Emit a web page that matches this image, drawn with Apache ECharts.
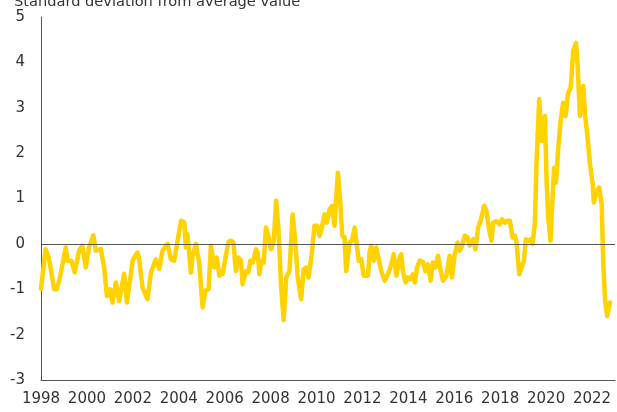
<!DOCTYPE html>
<html>
<head>
<meta charset="utf-8">
<script src="https://cdn.jsdelivr.net/npm/echarts@6/dist/echarts.min.js"></script>
<style>
  html, body { margin: 0; padding: 0; background: #fff; }
  #chart { width: 617px; height: 412px; }
</style>
</head>
<body>
<div id="chart"></div>
<script>
// decimal years and standardised values
const years = [
  1998.0, 1998.2, 1998.35, 1998.57, 1998.68, 1998.79, 1998.86, 1999.08, 1999.15, 1999.32,
  1999.47, 1999.66, 1999.8, 1999.95, 2000.09, 2000.28, 2000.39, 2000.6, 2000.75, 2000.87,
  2001.01, 2001.11, 2001.26, 2001.4, 2001.62, 2001.74, 2001.88, 2001.99, 2002.06, 2002.2,
  2002.28, 2002.42, 2002.64, 2002.79, 2003.0, 2003.15, 2003.29, 2003.51, 2003.66, 2003.8,
  2003.95, 2004.1, 2004.24, 2004.31, 2004.38, 2004.53, 2004.6, 2004.75, 2004.82, 2004.89,
  2005.04, 2005.16, 2005.3, 2005.4, 2005.55, 2005.65, 2005.77, 2005.91, 2006.06, 2006.17,
  2006.28, 2006.38, 2006.49, 2006.6, 2006.71, 2006.78, 2006.93, 2007.03, 2007.12, 2007.22,
  2007.37, 2007.44, 2007.51, 2007.61, 2007.7, 2007.8, 2007.9, 2008.02, 2008.14, 2008.24,
  2008.34, 2008.46, 2008.57, 2008.68, 2008.82, 2008.96, 2009.07, 2009.18, 2009.33, 2009.44,
  2009.55, 2009.65, 2009.79, 2009.91, 2010.03, 2010.13, 2010.2, 2010.35, 2010.45, 2010.57,
  2010.68, 2010.78, 2010.93, 2011.03, 2011.12, 2011.22, 2011.29, 2011.44, 2011.55, 2011.66,
  2011.76, 2011.84, 2011.95, 2012.05, 2012.24, 2012.31, 2012.38, 2012.49, 2012.6, 2012.72,
  2012.82, 2012.97, 2013.11, 2013.26, 2013.36, 2013.48, 2013.62, 2013.69, 2013.76, 2013.88,
  2013.98, 2014.09, 2014.2, 2014.28, 2014.38, 2014.49, 2014.64, 2014.74, 2014.85, 2014.97,
  2015.07, 2015.18, 2015.29, 2015.41, 2015.51, 2015.66, 2015.8, 2015.9, 2016.02, 2016.14,
  2016.24, 2016.34, 2016.46, 2016.57, 2016.67, 2016.82, 2016.92, 2017.04, 2017.15, 2017.3,
  2017.4, 2017.5, 2017.62, 2017.69, 2017.84, 2017.98, 2018.08, 2018.2, 2018.32, 2018.42,
  2018.54, 2018.64, 2018.71, 2018.83, 2018.93, 2019.03, 2019.12, 2019.22, 2019.32, 2019.41,
  2019.51, 2019.58, 2019.7, 2019.8, 2019.87, 2019.95, 2020.02, 2020.09, 2020.19, 2020.28,
  2020.35, 2020.43, 2020.53, 2020.63, 2020.74, 2020.85, 2020.96, 2021.07, 2021.18, 2021.3,
  2021.37, 2021.47, 2021.55, 2021.62, 2021.69, 2021.79, 2021.91, 2022.03, 2022.08, 2022.2,
  2022.31, 2022.42, 2022.49, 2022.57, 2022.66, 2022.78
]
const values = [
  -0.99, -0.12, -0.33, -1.0, -1.0, -0.82, -0.85, -0.08, -0.37, -0.37,
  -0.63, -0.15, -0.04, -0.52, -0.08, 0.19, -0.15, -0.11, -0.52, -1.15,
  -1.0, -1.29, -0.85, -1.26, -0.66, -1.29, -0.8, -0.37, -0.34, -0.19,
  -0.34, -0.96, -1.22, -0.63, -0.34, -0.55, -0.15, 0.0, -0.34, -0.37,
  0.07, 0.51, 0.47, -0.08, 0.21, -0.63, -0.26, 0.0, -0.23, -0.41,
  -1.4, -1.03, -1.0, -0.04, -0.52, -0.3, -0.7, -0.66, -0.23, 0.05,
  0.07, 0.03, -0.6, -0.3, -0.37, -0.89, -0.6, -0.63, -0.37, -0.41,
  -0.12, -0.2, -0.67, -0.37, -0.41, 0.36, 0.18, -0.12, 0.07, 0.95,
  0.36, -0.96, -1.68, -0.74, -0.6, 0.65, 0.07, -0.74, -1.22, -0.56,
  -0.52, -0.74, -0.23, 0.4, 0.4, 0.18, 0.29, 0.65, 0.47, 0.76,
  0.84, 0.4, 1.57, 0.95, 0.18, 0.15, -0.6, 0.03, 0.07, 0.36,
  -0.04, -0.37, -0.34, -0.7, -0.7, -0.19, -0.04, -0.37, -0.08, -0.37,
  -0.6, -0.81, -0.67, -0.45, -0.23, -0.7, -0.3, -0.23, -0.6, -0.85,
  -0.74, -0.78, -0.67, -0.85, -0.52, -0.37, -0.4, -0.6, -0.45, -0.81,
  -0.41, -0.52, -0.26, -0.6, -0.81, -0.7, -0.26, -0.74, -0.23, 0.03,
  -0.15, -0.04, 0.18, 0.15, -0.04, 0.1, -0.12, 0.36, 0.51, 0.84,
  0.73, 0.36, 0.07, 0.47, 0.5, 0.43, 0.54, 0.47, 0.51, 0.51,
  0.14, 0.18, 0.03, -0.67, -0.52, -0.37, 0.1, 0.07, 0.1, 0.0,
  0.45, 1.76, 3.19, 2.27, 2.57, 2.82, 1.39, 0.6, 0.07, 1.02,
  1.68, 1.35, 2.12, 2.71, 3.11, 2.82, 3.33, 3.44, 4.25, 4.43,
  3.96, 2.82, 3.0, 3.48, 2.86, 2.42, 1.76, 1.31, 0.91, 1.17,
  1.24, 0.87, -0.45, -1.26, -1.59, -1.29
]
const yAxisTitle = 'Standard deviation from average value'

const chart = echarts.init(document.getElementById('chart'))
const font = 'DejaVu Sans'
chart.setOption({
  animation: false,
  title: {
    text: yAxisTitle,
    left: 9,
    top: -10,
    textStyle: { fontFamily: font, fontSize: 14.6, fontWeight: 'normal', color: '#333' }
  },
  grid: { left: 41, right: 2, top: 17, bottom: 32 },
  xAxis: {
    type: 'value',
    min: 1998,
    max: 2023,
    interval: 2,
    splitLine: { show: false },
    axisTick: { show: false },
    axisLine: { show: true, onZero: false, lineStyle: { color: '#555', width: 1 } },
    axisLabel: {
      showMaxLabel: false,
      margin: 12,
      fontFamily: font,
      fontSize: 15,
      color: '#333',
      formatter: v => String(v)
    }
  },
  yAxis: {
    type: 'value',
    min: -3,
    max: 5,
    interval: 1,
    splitLine: { show: false },
    axisTick: { show: false },
    axisLine: { show: true, lineStyle: { color: '#555', width: 1 } },
    axisLabel: { margin: 16, fontFamily: font, fontSize: 15, color: '#333' }
  },
  series: [{
    type: 'line',
    data: years.map((y, i) => [y, values[i]]),
    showSymbol: false,
    lineStyle: { color: '#FFD200', width: 4.5, join: 'round', cap: 'round' },
    markLine: {
      silent: true,
      symbol: 'none',
      label: { show: false },
      lineStyle: { color: '#555', width: 1, type: 'solid' },
      data: [{ yAxis: 0 }]
    }
  }]
})
</script>
</body>
</html>
